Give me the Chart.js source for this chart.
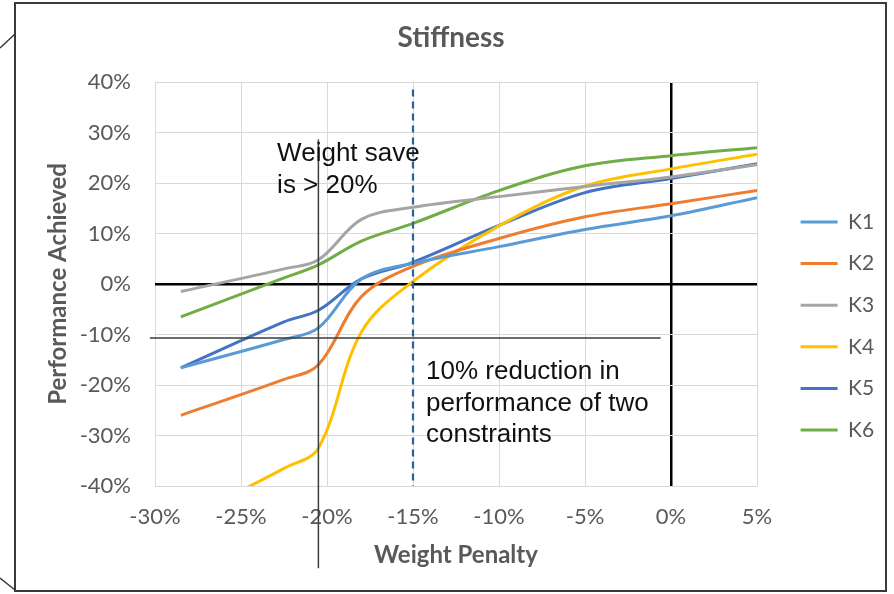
<!DOCTYPE html>
<html>
<head>
<meta charset="utf-8">
<script src="https://cdn.jsdelivr.net/npm/chart.js@4.4.1/dist/chart.umd.min.js"></script>
<style>
  html, body { margin: 0; padding: 0; background: #fff; }
  #wrap { width: 894px; height: 594px; }
</style>
</head>
<body>
<div id="wrap"><canvas id="stiffnessChart" width="894" height="594"></canvas></div>
<script>
// weight penalty (%) at which each configuration was evaluated
const weightPenalty = [-28.5, -22.5, -20.5, -18, -15, -10, -5, 0, 5];

// performance achieved (%)
const k1 = [-16.6, -11.0, -8.7, 1.0, 4.1, 7.4, 10.8, 13.5, 17.1];
const k2 = [-26.0, -18.9, -16.0, -2.5, 3.5, 9.0, 13.3, 15.9, 18.5];
const k3 = [-1.5, 3.0, 4.8, 12.8, 15.2, 17.3, 19.3, 21.2, 23.6];
const k4 = [-47.0, -36.5, -32.5, -9.5, 0.5, 11.5, 19.4, 22.8, 25.7];
const k5 = [-16.6, -7.5, -5.2, 1.0, 4.3, 11.6, 18.1, 20.9, 23.8];
const k6 = [-6.5, 1.2, 3.8, 8.5, 12.0, 18.5, 23.4, 25.4, 27.0];

const seriesNames = ['K1', 'K2', 'K3', 'K4', 'K5', 'K6'];
const seriesValues = [k1, k2, k3, k4, k5, k6];
const seriesColors = ['#5B9BD5', '#ED7D31', '#A5A5A5', '#FFC000', '#4472C4', '#70AD47'];

const xTicks = [-30, -25, -20, -15, -10, -5, 0, 5];
const yTicks = [-40, -30, -20, -10, 0, 10, 20, 30, 40];

// annotation overlays, in data units
const saveLine = { x: -20.5, yFrom: 28.6, yTo: -56.3 };
const limitLine = { y: -10.7, xFrom: -30.3, xTo: -0.6 };
const dashLine = { x: -15, yFrom: 38.5, yTo: -40 };
const saveNote = { x: -22.9, y: 24.3, lines: ['Weight save', 'is > 20%'] };
const reductionNote = { x: -14.24, y: -18.9, lines: ['10% reduction in', 'performance of two', 'constraints'] };

const labelFont = 'Lato';
const greyText = '#595959';

const overlayPlugin = {
  id: 'overlay',
  beforeDraw(chart) {
    const c = chart.ctx;
    c.save();
    c.fillStyle = '#fff';
    c.fillRect(0, 0, chart.width, chart.height);
    c.restore();
  },
  afterLayout(chart) {
    // legend sits a little away from the plot, like the Excel original
    const lg = chart.legend;
    if (lg) {
      const h = lg.bottom - lg.top;
      lg.left = 780;
      lg.right = chart.width;
      lg.width = lg.right - lg.left;
      lg.top = 326 - h / 2;
      lg.bottom = lg.top + h;
    }
    // title centred on the whole frame
    const tb = chart.titleBlock;
    if (tb) {
      tb.left = 16;
      tb.right = 886;
      tb.width = tb.right - tb.left;
    }
  },
  afterDatasetsDraw(chart) {
    const c = chart.ctx;
    const xs = chart.scales.x, ys = chart.scales.y;
    c.save();
    // thin dark guide lines
    c.strokeStyle = '#3a3f3a';
    c.lineWidth = 1.5;
    c.beginPath();
    c.moveTo(xs.getPixelForValue(saveLine.x), ys.getPixelForValue(saveLine.yFrom));
    c.lineTo(xs.getPixelForValue(saveLine.x), ys.getPixelForValue(saveLine.yTo));
    c.moveTo(xs.getPixelForValue(limitLine.xFrom), ys.getPixelForValue(limitLine.y));
    c.lineTo(xs.getPixelForValue(limitLine.xTo), ys.getPixelForValue(limitLine.y));
    c.stroke();
    // dashed line at -15%
    c.strokeStyle = '#2e6399';
    c.lineWidth = 2.25;
    c.setLineDash([7, 5]);
    c.beginPath();
    c.moveTo(xs.getPixelForValue(dashLine.x), ys.getPixelForValue(dashLine.yFrom));
    c.lineTo(xs.getPixelForValue(dashLine.x), ys.getPixelForValue(dashLine.yTo));
    c.stroke();
    c.setLineDash([]);
    // text notes
    c.fillStyle = '#111';
    c.font = '26px "Liberation Sans", Arial, sans-serif';
    c.textAlign = 'left';
    c.textBaseline = 'alphabetic';
    [saveNote, reductionNote].forEach(n => {
      const x0 = xs.getPixelForValue(n.x);
      const y0 = ys.getPixelForValue(n.y);
      n.lines.forEach((t, i) => c.fillText(t, x0, y0 + i * 31.4));
    });
    c.restore();
  },
  afterDraw(chart) {
    const c = chart.ctx;
    c.save();
    c.strokeStyle = '#3a3a3a';
    c.lineWidth = 2;
    c.strokeRect(15, 3, 871, 588);
    c.lineWidth = 1.5;
    c.beginPath();
    c.moveTo(0, 48); c.lineTo(15, 34);
    c.moveTo(0, 578); c.lineTo(15, 590);
    c.stroke();
    c.restore();
  }
};

const ctx = document.getElementById('stiffnessChart').getContext('2d');

const stiffnessChart = new Chart(ctx, {
  type: 'line',
  data: {
    datasets: seriesNames.map((name, i) => ({
      label: name,
      data: weightPenalty.map((x, j) => ({ x: x, y: seriesValues[i][j] })),
      borderColor: seriesColors[i],
      backgroundColor: seriesColors[i],
      borderWidth: 3,
      pointRadius: 0,
      tension: 0.35,
      fill: false
    }))
  },
  options: {
    responsive: false,
    animation: false,
    devicePixelRatio: 1,
    layout: { padding: { left: 16, top: 3, right: 47, bottom: 3 } },
    plugins: {
      title: {
        display: true,
        text: 'Stiffness',
        color: greyText,
        font: { family: labelFont, size: 28, weight: 'bold' },
        padding: { top: 17.7, bottom: 27.7 }
      },
      legend: {
        position: 'right',
        maxWidth: 90,
        labels: {
          usePointStyle: true,
          pointStyle: 'line',
          pointStyleWidth: 37,
          padding: 20.6,
          color: greyText,
          font: { family: labelFont, size: 21 }
        }
      },
      tooltip: { enabled: false }
    },
    scales: {
      x: {
        type: 'linear',
        min: -30,
        max: 5,
        afterBuildTicks: s => { s.ticks = xTicks.map(v => ({ value: v })); },
        afterFit: s => { s.height = 105; },
        ticks: {
          color: greyText,
          font: { family: labelFont, size: 22 },
          padding: 18,
          maxRotation: 0,
          callback: v => v + '%'
        },
        grid: {
          drawTicks: false,
          color: c => c.tick && c.tick.value === 0 ? '#000' : '#d9d9d9',
          lineWidth: c => c.tick && c.tick.value === 0 ? 2.5 : 1
        },
        border: { display: false },
        title: {
          display: true,
          text: 'Weight Penalty',
          color: greyText,
          font: { family: labelFont, size: 24, weight: 'bold' },
          padding: { top: 0, bottom: 21.6 }
        }
      },
      y: {
        type: 'linear',
        min: -40,
        max: 40,
        afterBuildTicks: s => { s.ticks = yTicks.map(v => ({ value: v })); },
        afterFit: s => { s.width = 139; },
        ticks: {
          color: greyText,
          font: { family: labelFont, size: 22 },
          padding: 24,
          callback: v => v + '%'
        },
        grid: {
          drawTicks: false,
          color: c => c.tick && c.tick.value === 0 ? '#000' : '#d9d9d9',
          lineWidth: c => c.tick && c.tick.value === 0 ? 2.5 : 1
        },
        border: { display: false },
        title: {
          display: true,
          text: 'Performance Achieved',
          color: greyText,
          font: { family: labelFont, size: 24, weight: 'bold' },
          padding: { top: 27.6, bottom: 0 }
        }
      }
    }
  },
  plugins: [overlayPlugin]
});
</script>
</body>
</html>
